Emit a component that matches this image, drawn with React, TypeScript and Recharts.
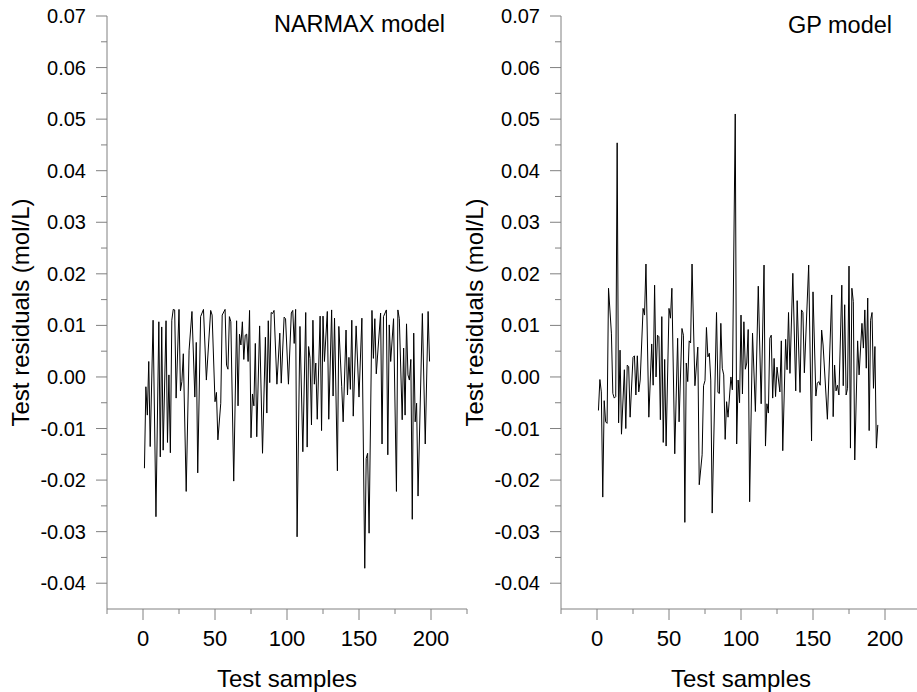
import { LineChart, Line, XAxis, YAxis, Label } from 'recharts'

const FONT = '"Liberation Sans", Arial, Helvetica, sans-serif'
const AXIS = '#808080'

// tick positions (major every 0.01 / 50, minor halfway)
const yTicks = [
  -0.04, -0.035, -0.03, -0.025, -0.02, -0.015, -0.01, -0.005, 0, 0.005, 0.01, 0.015,
  0.02, 0.025, 0.03, 0.035, 0.04, 0.045, 0.05, 0.055, 0.06, 0.065, 0.07,
]
const xTicks = [-25, 0, 25, 50, 75, 100, 125, 150, 175, 200, 225]

// NARMAX model residuals
const narmaxSample = [
  1, 2, 3, 4, 5, 7, 9, 11, 12, 13, 14, 16, 17, 18, 19, 20, 21, 22, 23, 25, 26, 27, 28, 30,
  32, 34, 36, 37, 38, 40, 42, 44, 47, 48, 50, 51, 52, 54, 55, 57, 58, 59, 60, 61, 63, 65,
  66, 67, 68, 69, 70, 71, 72, 73, 74, 75, 76, 77, 78, 79, 81, 83, 85, 86, 87, 88, 89, 90,
  91, 93, 95, 96, 98, 99, 101, 103, 104, 105, 106, 107, 109, 111, 113, 114, 115, 116, 117,
  118, 119, 120, 121, 123, 124, 125, 126, 128, 129, 131, 132, 133, 135, 136, 138, 139, 141,
  142, 143, 144, 145, 146, 148, 150, 152, 154, 155, 156, 157, 159, 160, 161, 162, 165, 166,
  167, 169, 170, 171, 172, 174, 176, 177, 178, 180, 181, 182, 183, 184, 185, 186, 187, 188,
  189, 190, 191, 194, 196, 198, 199,
]
const narmaxResidual = [
  -0.0177, -0.0019, -0.0074, 0.003, -0.0135, 0.011, -0.0271, 0.0107, -0.0155, 0.0097,
  -0.0142, 0.0109, -0.0127, 0.0004, -0.0147, 0.011, 0.0131, 0.013, -0.0041, 0.0131,
  -0.0027, -0.0009, 0.0045, -0.0222, 0.0052, 0.0127, -0.0039, 0.0067, -0.0186, 0.0117,
  0.0131, -0.0006, 0.0129, 0.012, -0.0048, -0.003, -0.0122, -0.0051, 0.012, 0.0131,
  0.0023, 0.0015, 0.0117, 0.0107, -0.0202, 0.0109, -0.0056, 0.0083, 0.0062, 0.0107,
  0.0034, 0.0081, 0.0083, 0.003, 0.0129, -0.0118, -0.0033, -0.0056, 0.0065, -0.0116,
  0.0099, -0.0148, 0.0077, -0.007, 0.0109, -0.0011, 0.0125, 0.0123, 0.0129, -0.0014,
  0.0085, -0.0012, 0.0116, 0.0113, -0.0014, 0.0124, 0.0129, 0.0065, 0.0131, -0.031,
  0.0098, -0.0145, 0.0125, -0.0136, 0.0059, 0.0036, -0.0093, 0.011, -0.0014, 0.0027,
  -0.0082, 0.0118, -0.0104, 0.0118, 0.003, 0.0127, -0.0082, 0.013, -0.0037, 0.0114,
  -0.0182, 0.0098, -0.0019, -0.0087, 0.0091, -0.0035, 0.0038, -0.0024, 0.011, -0.0076,
  0.0099, -0.0039, 0.0114, -0.0371, -0.0158, -0.0148, -0.0303, 0.0129, 0.0036, 0.0113,
  0.0006, 0.0124, -0.013, 0.0117, 0.013, -0.0151, 0.0101, 0.003, 0.0113, -0.0222, 0.013,
  0.0113, -0.0083, 0.0056, -0.0074, 0.0103, 0.0004, -0.0006, 0.0034, -0.0276, 0.0085,
  -0.0087, -0.0051, -0.0231, 0.0123, -0.013, 0.0127, 0.003,
]

// GP model residuals
const gpSample = [
  1, 2, 3, 4, 5, 6, 7, 8, 10, 11, 12, 13, 14, 15, 16, 17, 19, 20, 21, 22, 23, 25, 26, 27,
  28, 29, 30, 32, 33, 34, 36, 38, 39, 40, 41, 42, 43, 44, 45, 46, 47, 48, 50, 51, 52, 54,
  56, 57, 59, 60, 61, 62, 63, 64, 65, 66, 68, 70, 71, 73, 74, 75, 76, 77, 78, 79, 80, 83,
  84, 85, 86, 87, 88, 89, 90, 91, 93, 94, 96, 97, 98, 99, 100, 101, 102, 103, 104, 105,
  106, 108, 110, 112, 114, 116, 117, 118, 119, 120, 121, 122, 123, 124, 125, 127, 128, 129,
  131, 132, 133, 134, 136, 138, 139, 141, 142, 143, 144, 147, 149, 150, 152, 153, 154, 155,
  156, 157, 160, 163, 164, 165, 166, 167, 168, 170, 171, 172, 173, 174, 175, 176, 177, 178,
  179, 181, 182, 184, 185, 186, 187, 188, 189, 190, 191, 192, 193, 194, 195,
]
const gpResidual = [
  -0.0065, -0.0005, -0.0029, -0.0233, -0.0046, -0.0087, -0.009, 0.0172, 0.0085, -0.0032,
  -0.0041, -0.0038, 0.0454, -0.0089, 0.0052, -0.0111, 0.0014, -0.01, 0.0023, 0.002,
  -0.0078, 0.0038, 0.0041, -0.0035, 0.0041, -0.0029, -0.0006, 0.0133, 0.012, 0.0219,
  -0.0078, 0.0064, -0.0016, 0.0178, 0.0, 0.0081, 0.0078, -0.0083, 0.0117, -0.0127, 0.0034,
  -0.0134, 0.0133, 0.0114, 0.0172, -0.0149, 0.0075, -0.0087, 0.0094, 0.0081, -0.0282,
  0.0027, -0.0009, 0.007, 0.0066, 0.0219, -0.0017, 0.0058, -0.0209, -0.0151, -0.0017,
  -0.0007, 0.0096, 0.0039, 0.0046, -0.0006, -0.0264, 0.0125, -0.003, -0.0032, 0.0104,
  0.0017, 0.0004, -0.0121, -0.0048, -0.0078, 0.0, -0.0025, 0.051, -0.013, -0.0006, -0.005,
  0.012, -0.0033, 0.0107, 0.0015, 0.0027, 0.0092, -0.0242, 0.0085, -0.0067, 0.0176,
  -0.0052, 0.0217, -0.0134, -0.0052, -0.007, 0.0075, 0.0081, -0.0041, 0.0036, -0.0038,
  0.0019, -0.0029, 0.007, -0.0143, 0.0073, 0.0014, 0.0125, 0.0007, 0.0201, -0.0027,
  0.0148, -0.003, 0.013, 0.0125, 0.0008, 0.0217, -0.0124, 0.0165, -0.0037, -0.0012,
  -0.0009, -0.0016, 0.0091, 0.0062, -0.0082, 0.0159, -0.0077, 0.0023, -0.0027, -0.0016,
  -0.0035, 0.0178, -0.0017, 0.014, -0.0035, -0.0022, 0.0215, -0.0138, 0.0172, 0.0146,
  -0.0161, 0.007, 0.0004, 0.0104, 0.0056, 0.013, 0.0017, 0.0153, -0.0104, 0.011, 0.0125,
  -0.0022, 0.0059, -0.0138, -0.0093,
]

const narmaxData = narmaxSample.map((x, i) => ({ x, y: narmaxResidual[i] }))
const gpData = gpSample.map((x, i) => ({ x, y: gpResidual[i] }))

function YTick(props: any) {
  const { x, y, payload } = props
  const v = payload.value
  const major = Math.abs(v * 100 - Math.round(v * 100)) < 1e-6
  return (
    <g>
      <line x1={x} x2={x - (major ? 11 : 6)} y1={y} y2={y} stroke={AXIS} />
      {major && (
        <text x={x - 21} y={y + 7} textAnchor="end" fontSize={20} fontFamily={FONT} fill="#000">
          {v.toFixed(2)}
        </text>
      )}
    </g>
  )
}

function XTick(props: any) {
  const { x, y, payload } = props
  const v = payload.value
  const major = v % 50 === 0
  return (
    <g>
      <line x1={x} x2={x} y1={y} y2={y + (major ? 11 : 5)} stroke={AXIS} />
      {major && (
        <text x={x} y={y + 37} textAnchor="middle" fontSize={22} fontFamily={FONT} fill="#000">
          {v}
        </text>
      )}
    </g>
  )
}

function Panel({ data, title, titleX, titleY }: { data: { x: number; y: number }[]; title: string; titleX: number; titleY: number }) {
  return (
    <LineChart width={480} height={692} data={data} margin={{ top: 16, right: 13, bottom: 0, left: 0 }}>
      <XAxis
        type="number"
        dataKey="x"
        domain={[-25, 225]}
        ticks={xTicks}
        interval={0}
        tickSize={0}
        tickMargin={0}
        tickLine={false}
        tick={<XTick />}
        axisLine={{ stroke: AXIS }}
        height={83}
      >
        <Label
          content={(p: any) => (
            <text
              x={p.viewBox.x + p.viewBox.width / 2}
              y={p.viewBox.y + 78}
              textAnchor="middle"
              fontSize={24}
              fontFamily={FONT}
              fill="#000"
            >
              Test samples
            </text>
          )}
        />
      </XAxis>
      <YAxis
        type="number"
        domain={[-0.045, 0.07]}
        ticks={yTicks}
        interval={0}
        tickSize={0}
        tickMargin={0}
        tickLine={false}
        tick={<YTick />}
        axisLine={{ stroke: AXIS }}
        width={107}
      >
        <Label
          content={(p: any) => {
            const bx = p.viewBox.x + p.viewBox.width - 78
            const cy = p.viewBox.y + p.viewBox.height / 2
            return (
              <text
                x={bx}
                y={cy}
                transform={`rotate(-90, ${bx}, ${cy})`}
                textAnchor="middle"
                fontSize={24}
                fontFamily={FONT}
                fill="#000"
              >
                Test residuals (mol/L)
              </text>
            )
          }}
        />
        <Label
          content={() => (
            <text x={titleX} y={titleY} textAnchor="end" fontSize={23.5} fontFamily={FONT} fill="#000">
              {title}
            </text>
          )}
        />
      </YAxis>
      <Line
        type="linear"
        dataKey="y"
        stroke="#000"
        strokeWidth={1}
        dot={false}
        activeDot={false}
        isAnimationActive={false}
      />
    </LineChart>
  )
}

export default function App() {
  return (
    <div style={{ position: 'fixed', left: 0, top: 0, width: 917, height: 692, overflow: 'hidden', background: '#fff' }}>
      <div style={{ position: 'absolute', left: 0, top: 0 }}>
        <Panel data={narmaxData} title="NARMAX model" titleX={445} titleY={32} />
      </div>
      <div style={{ position: 'absolute', left: 454, top: 0 }}>
        <Panel data={gpData} title="GP model" titleX={438} titleY={33} />
      </div>
    </div>
  )
}
